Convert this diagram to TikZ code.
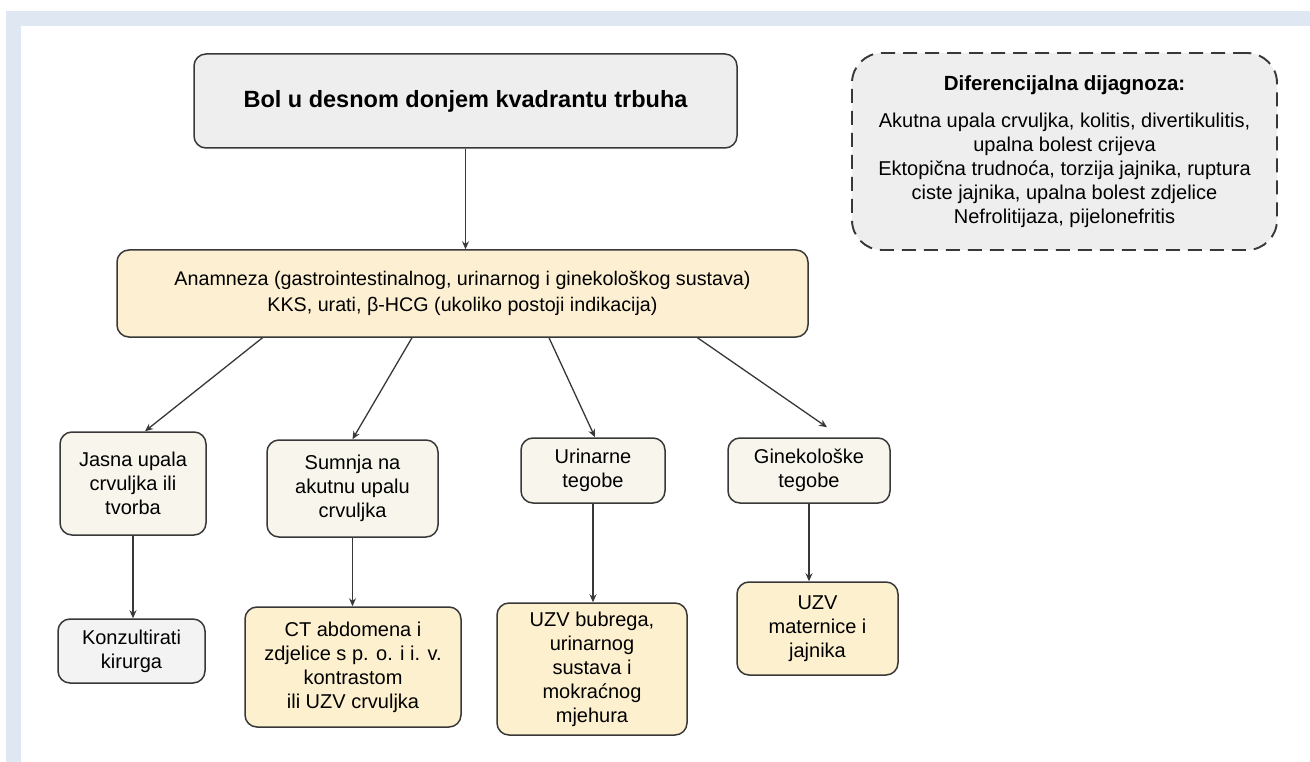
\documentclass[tikz,border=0pt]{standalone}
\usepackage{fontspec}
\setmainfont{Liberation Sans}
\usetikzlibrary{arrows.meta}
\definecolor{band}{HTML}{DFE7F3}
\definecolor{stroke}{HTML}{383838}
\definecolor{grayfill}{HTML}{EEEEEE}
\definecolor{konzfill}{HTML}{F3F3F3}
\definecolor{anamfill}{HTML}{FCEFD2}
\definecolor{creamfill}{HTML}{F8F5EC}
\definecolor{yellowfill}{HTML}{FDF0CF}
\begin{document}
\begin{tikzpicture}[x=1pt,y=-1pt,
  box/.style={draw=stroke,line width=1.5pt,rounded corners=12pt,align=center,
    inner sep=0pt,font=\fontsize{20}{24}\selectfont,text=black},
  arr/.style={draw=stroke,line width=1.3pt,-{Stealth[length=8pt,width=7pt]}}]
\useasboundingbox (0,0) rectangle (1310,762);
\fill[band] (6,11) rectangle (1310,762);
\fill[white] (21,26) rectangle (1310,762);

\node[box,fill=grayfill,minimum width=543pt,minimum height=94pt,
  font=\fontsize{23.5}{28}\selectfont\bfseries] (top) at (465.5,101)
  {Bol u desnom donjem kvadrantu trbuha};

\node[box,fill=grayfill,dashed,dash pattern=on 14pt off 8pt,line width=1.9pt,
  rounded corners=30pt,minimum width=425pt,minimum height=197pt] (diff) at (1064.5,151.5)
  {{\fontsize{20.5}{24}\selectfont\bfseries Diferencijalna dijagnoza:}\\[13pt]
   \fontsize{20}{24.3}\selectfont Akutna upala crvuljka, kolitis, divertikulitis,\\
   upalna bolest crijeva\\
   Ektopična trudnoća, torzija jajnika, ruptura\\
   ciste jajnika, upalna bolest zdjelice\\
   Nefrolitijaza, pijelonefritis};

\node[box,fill=anamfill,minimum width=691pt,minimum height=87pt,
  font=\fontsize{19.7}{26}\selectfont] (anam) at (462.5,293.5)
  {Anamneza (gastrointestinalnog, urinarnog i ginekološkog sustava)\\
   KKS, urati, β-HCG (ukoliko postoji indikacija)};

\node[box,fill=creamfill,minimum width=146pt,minimum height=103pt] (jasna) at (133,483.5)
  {Jasna upala\\crvuljka ili\\tvorba};
\node[box,fill=creamfill,minimum width=171pt,minimum height=97pt] (sumnja) at (352.5,488.5)
  {Sumnja na\\akutnu upalu\\crvuljka};
\node[box,fill=creamfill,minimum width=144pt,minimum height=65pt] (urin) at (593,470.5)
  {Urinarne\\tegobe};
\node[box,fill=creamfill,minimum width=162pt,minimum height=65pt] (ginek) at (809,470.5)
  {Ginekološke\\tegobe};

\node[box,fill=konzfill,minimum width=147pt,minimum height=64pt] (konz) at (131.5,651)
  {Konzultirati\\kirurga};
\node[box,fill=yellowfill,minimum width=216pt,minimum height=120pt] (ct) at (353,667)
  {CT abdomena i\\zdjelice s p. o. i i. v.\\kontrastom\\ili UZV crvuljka};
\node[box,fill=yellowfill,minimum width=190pt,minimum height=132pt] (uzvb) at (592,669)
  {UZV bubrega,\\urinarnog\\sustava i\\mokraćnog\\mjehura};
\node[box,fill=yellowfill,minimum width=161pt,minimum height=93pt] (uzvm) at (817.5,628.5)
  {UZV\\maternice i\\jajnika};

\coordinate (gend) at ([xshift=18pt,yshift=10pt]ginek.north);

\draw[arr] (top.south) -- (top.south |- anam.north);
\draw[arr] ([xshift=-200pt]anam.south) -- ([xshift=12pt]jasna.north);
\draw[arr] ([xshift=-50.5pt]anam.south) -- (sumnja.north);
\draw[arr] ([xshift=86.5pt]anam.south) -- ([xshift=2pt]urin.north);
\draw[arr] ([xshift=235pt]anam.south) -- (gend);

\draw[arr] (jasna.south) -- (jasna.south |- konz.north);
\draw[arr] (sumnja.south) -- (sumnja.south |- ct.north);
\draw[arr] (urin.south) -- (urin.south |- uzvb.north);
\draw[arr] (ginek.south) -- (ginek.south |- uzvm.north);
\end{tikzpicture}
\end{document}
